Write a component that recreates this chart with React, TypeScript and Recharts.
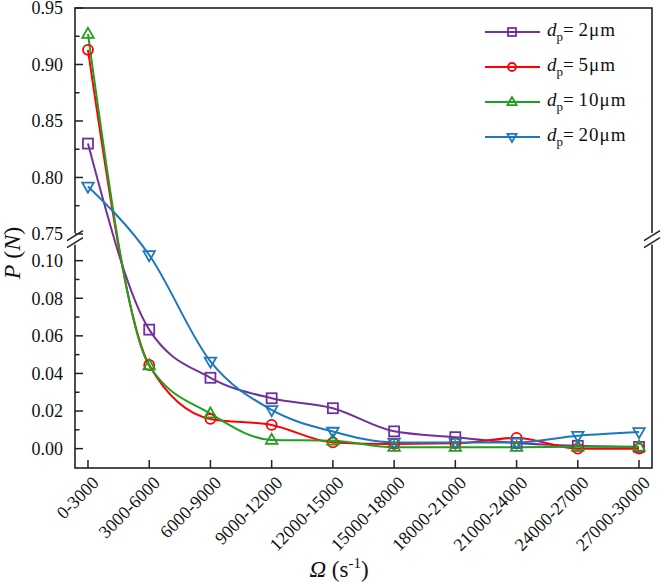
import React from 'react';
import { LineChart, Line, XAxis, YAxis, ReferenceArea, Legend } from 'recharts';

// ---- data ----
const CATEGORIES = ['0-3000', '3000-6000', '6000-9000', '9000-12000', '12000-15000', '15000-18000', '18000-21000', '21000-24000', '24000-27000', '27000-30000'];
const P_DP2 = [0.830, 0.0633, 0.0377, 0.0268, 0.0215, 0.0092, 0.0061, 0.0030, 0.0015, 0.0009];
const P_DP5 = [0.913, 0.0445, 0.0158, 0.0126, 0.0033, 0.0025, 0.0028, 0.0057, 0.0000, 0.0000];
const P_DP10 = [0.927, 0.0442, 0.0186, 0.0046, 0.0042, 0.0008, 0.0008, 0.0008, 0.0010, 0.0010];
const P_DP20 = [0.792, 0.103, 0.0464, 0.0206, 0.0091, 0.0033, 0.0033, 0.0033, 0.0069, 0.0089];
const SERIES_LABELS = ['2μm', '5μm', '10μm', '20μm'];
const LOWER_TICKS = [0, 0.02, 0.04, 0.06, 0.08, 0.10];
const LOWER_MINOR = [0.01, 0.03, 0.05, 0.07, 0.09];
const UPPER_TICKS = [0.75, 0.80, 0.85, 0.90, 0.95];
const UPPER_MINOR = [0.775, 0.825, 0.875, 0.925];

// ---- broken axis mapping (lower segment 0..0.11, upper segment 0.75..0.95) ----
const UPPER_START = 0.75;
const UPPER_OFFSET = 0.1142;
const UPPER_FACTOR = 0.601;
const toAxis = (p: number) => (p >= 0.5 ? UPPER_OFFSET + (p - UPPER_START) * UPPER_FACTOR : p);
const Y_DOMAIN = [-0.0103, 0.2344];
const GAP = [0.1085, 0.1147];
const X_DOMAIN = [-0.212, CATEGORIES.length - 1 + 0.212];
const X_TICKS = CATEGORIES.map((_, i) => i);

const COLORS = ['#7030A0', '#FF0000', '#1FA01F', '#1C77C0'];
const SHAPES = ['square', 'circle', 'triangle', 'down'];
const KEYS = ['dp2', 'dp5', 'dp10', 'dp20'];
const RAW = [P_DP2, P_DP5, P_DP10, P_DP20];

const data = CATEGORIES.map((c, i) => {
  const row: any = { idx: i, cat: c };
  KEYS.forEach((k, j) => (row[k] = toAxis(RAW[j][i])));
  return row;
});

const MAJOR = [...LOWER_TICKS, ...UPPER_TICKS].map((v) => ({ v: toAxis(v), label: v.toFixed(2) }));
const ALL_TICKS = [...LOWER_TICKS, ...LOWER_MINOR, ...UPPER_TICKS, ...UPPER_MINOR].map(toAxis).sort((a, b) => a - b);

const FONT = "'Liberation Serif', 'Times New Roman', serif";
const AX = '#222';
const TXT = '#111';

function Marker({ shape, cx, cy, color, s }: any) {
  const sw = 1.8;
  if (shape === 'square')
    return <rect x={cx - s / 2} y={cy - s / 2} width={s} height={s} fill="none" stroke={color} strokeWidth={sw} />;
  if (shape === 'circle') return <circle cx={cx} cy={cy} r={s / 2} fill="none" stroke={color} strokeWidth={sw} />;
  const w = s * 1.15;
  const h = s * 1.0;
  if (shape === 'triangle')
    return (
      <polygon
        points={`${cx},${cy - h * 0.62} ${cx - w / 2},${cy + h * 0.38} ${cx + w / 2},${cy + h * 0.38}`}
        fill="none"
        stroke={color}
        strokeWidth={sw}
      />
    );
  return (
    <polygon
      points={`${cx},${cy + h * 0.62} ${cx - w / 2},${cy - h * 0.38} ${cx + w / 2},${cy - h * 0.38}`}
      fill="none"
      stroke={color}
      strokeWidth={sw}
    />
  );
}

const Y_MARGIN = 12;
function YTick(props: any) {
  const { x, y, payload } = props;
  const ax = x + Y_MARGIN;
  const m = MAJOR.find((t) => Math.abs(t.v - payload.value) < 1e-6);
  return (
    <g>
      <line x1={ax} x2={ax + (m ? 8 : 4.5)} y1={y} y2={y} stroke={AX} strokeWidth={1.5} />
      {m && (
        <text x={x} y={y} dy="0.35em" textAnchor="end" style={{ fontFamily: FONT, fontSize: 18 }} fill={TXT}>
          {m.label}
        </text>
      )}
    </g>
  );
}

function XTick(props: any) {
  const { x, y, payload } = props;
  return (
    <g>
      <line x1={x} x2={x} y1={y} y2={y - 8} stroke={AX} strokeWidth={1.5} />
      <text
        transform={`translate(${x + 12},${y + 16}) rotate(-45)`}
        textAnchor="end"
        style={{ fontFamily: FONT, fontSize: 18 }}
        fill={TXT}
      >
        {CATEGORIES[payload.value]}
      </text>
    </g>
  );
}

function FrameShape(props: any) {
  const { x, y, width, height } = props;
  return <rect x={x} y={y} width={width} height={height} fill="none" stroke={AX} strokeWidth={1.6} />;
}

function BreakShape(props: any) {
  const { x, y, width, height } = props;
  const marks: any[] = [];
  [x, x + width].forEach((ax, i) => {
    [y + 2.5, y + 9.5].forEach((yc, j) => {
      marks.push(
        <line key={`${i}-${j}`} x1={ax - 8} y1={yc + 5} x2={ax + 8} y2={yc - 5} stroke={AX} strokeWidth={1.5} />
      );
    });
  });
  return (
    <g>
      <rect x={x - 4} y={y} width={width + 8} height={height} fill="#fff" />
      {marks}
    </g>
  );
}

function renderLegend() {
  return (
    <div style={{ fontFamily: FONT, fontSize: 19, color: TXT }}>
      {SERIES_LABELS.map((lab, i) => (
        <div key={lab} style={{ display: 'flex', alignItems: 'center', height: 34.8 }}>
          <svg width={58} height={20} style={{ display: 'block' }}>
            <line x1={1} x2={56} y1={10} y2={10} stroke={COLORS[i]} strokeWidth={2} />
            <Marker shape={SHAPES[i]} cx={28} cy={10} color={COLORS[i]} s={8} />
          </svg>
          <span style={{ marginLeft: 5, whiteSpace: 'nowrap' }}>
            <i>d</i>
            <sub style={{ fontSize: 13, verticalAlign: '-5px' }}>p</sub>= <span style={{ letterSpacing: 1 }}>{lab}</span>
          </span>
        </div>
      ))}
    </div>
  );
}

function YTitle() {
  return (
    <text transform="translate(20,253) rotate(-90)" textAnchor="middle" style={{ fontFamily: FONT, fontSize: 24 }} fill={TXT}>
      <tspan fontStyle="italic">P</tspan>
      <tspan> (</tspan>
      <tspan fontStyle="italic">N</tspan>
      <tspan>)</tspan>
    </text>
  );
}

function XTitle() {
  return (
    <text x={339} y={577} textAnchor="middle" style={{ fontFamily: FONT, fontSize: 23 }} fill={TXT}>
      <tspan fontStyle="italic">Ω</tspan>
      <tspan> (s</tspan>
      <tspan fontSize={15} dy={-9}>-1</tspan>
      <tspan dy={9}>)</tspan>
    </text>
  );
}

export default function App() {
  return (
    <div style={{ position: 'absolute', left: 0, top: 0, background: '#fff' }}>
      <LineChart width={661} height={584} data={data} margin={{ top: 8, right: 9, bottom: 0, left: 0 }}>
        <XAxis
          type="number"
          dataKey="idx"
          domain={X_DOMAIN}
          allowDataOverflow
          ticks={X_TICKS}
          interval={0}
          height={116}
          tickSize={0}
          tickMargin={0}
          tickLine={false}
          axisLine={false}
          tick={<XTick />}
          label={<XTitle />}
        />
        <YAxis
          type="number"
          domain={Y_DOMAIN}
          allowDataOverflow
          ticks={ALL_TICKS}
          interval={0}
          width={75}
          tickSize={0}
          tickMargin={Y_MARGIN}
          tickLine={false}
          axisLine={false}
          tick={<YTick />}
          label={<YTitle />}
        />
        {KEYS.map((k, i) => (
          <Line
            key={k}
            dataKey={k}
            type="monotone"
            stroke={COLORS[i]}
            strokeWidth={2}
            isAnimationActive={false}
            dot={(p: any) => <Marker key={`${k}-${p.index}`} shape={SHAPES[i]} cx={p.cx} cy={p.cy} color={COLORS[i]} s={10} />}
            activeDot={false}
          />
        ))}
        <ReferenceArea shape={<FrameShape />} ifOverflow="visible" />
        <ReferenceArea y1={GAP[0]} y2={GAP[1]} shape={<BreakShape />} ifOverflow="visible" />
        <Legend
          layout="horizontal"
          verticalAlign="middle"
          align="center"
          wrapperStyle={{ left: 484, top: 15, width: 175 }}
          content={renderLegend}
        />
      </LineChart>
    </div>
  );
}
